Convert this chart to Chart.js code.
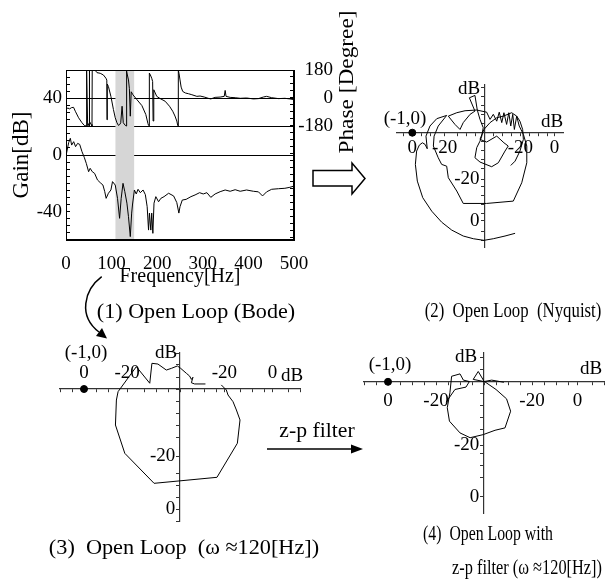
<!DOCTYPE html>
<html>
<head>
<meta charset="utf-8">
<script src="https://cdn.jsdelivr.net/npm/chart.js@4.4.1/dist/chart.umd.min.js"></script>
<style>
  body { margin: 0; background: #fff; }
  #page { position: relative; width: 616px; height: 583px; overflow: hidden;
          font-family: 'Liberation Serif', 'Times New Roman', serif; color: #000; }
  canvas { position: absolute; }
  .t { position: absolute; white-space: pre; line-height: 1; font-size: 19px;
       transform: translate(-50%, -50%); }
  .cap { font-size: 22px; }
  svg { position: absolute; left: 0; top: 0; }
</style>
</head>
<body>
<div id="page">
  <canvas id="bode" width="340" height="292" style="left:0;top:0"></canvas>
  <canvas id="nyq2" width="214" height="210" style="left:373px;top:61px"></canvas>
  <canvas id="nyq3" width="288" height="216" style="left:36px;top:329px"></canvas>
  <canvas id="nyq4" width="288" height="208" style="left:340px;top:329px"></canvas>

  <svg width="616" height="583">
    <path d="M313,170.5 H352 V163 L365,178.5 L352,194 V186 H313 Z" fill="#fff" stroke="#000" stroke-width="1.5"/>
    <path d="M101.7,276.7 C84,290 78,316 99,332" fill="none" stroke="#000" stroke-width="1.5"/>
    <polygon points="107,338.5 96,336 102,328" fill="#000"/>
    <line x1="267" y1="449" x2="354" y2="449" stroke="#000" stroke-width="1.3"/>
    <polygon points="363,449 351,444.5 351,453.5" fill="#000"/>
  </svg>

  <div class="t cap" data-w="143" data-rot="1" style="left:346px;top:82px">Phase [Degree]</div>
  <div class="t cap" data-w="198" style="left:196px;top:311px">(1) Open Loop (Bode)</div>
  <div class="t cap" data-w="177" style="left:513px;top:310px">(2)  Open Loop  (Nyquist)</div>
  <div class="t cap" data-w="270" style="left:184px;top:547px">(3)  Open Loop  (ω ≈120[Hz])</div>
  <div class="t cap" data-w="130" style="left:488px;top:533px">(4)  Open Loop with</div>
  <div class="t cap" data-w="150" style="left:527px;top:567px">z-p filter (ω ≈120[Hz])</div>
  <div class="t cap" data-w="75" style="left:317px;top:430px">z-p filter</div>

  <div class="t" style="left:469px;top:87px">dB</div>
  <div class="t" style="left:405px;top:117px">(-1,0)</div>
  <div class="t" style="left:552px;top:120px">dB</div>

  <div class="t" style="left:166px;top:351px">dB</div>
  <div class="t" style="left:86px;top:351px">(-1,0)</div>
  <div class="t" style="left:292px;top:374px">dB</div>

  <div class="t" style="left:466px;top:355px">dB</div>
  <div class="t" style="left:390px;top:363px">(-1,0)</div>
  <div class="t" style="left:591px;top:367px">dB</div>
</div>

<script>
// ---- Bode plot data: [frequency Hz, value] ----
const gainCurve = [
  [1, 1], [5.8, 8.7], [9.5, 11.8], [12.4, 7], [16.8, 9.4], [21, 5.9], [25.5, 8.2], [30, 7.5],
  [35, 2.4], [40, -1.6], [44.5, -5.9], [49.6, -11.8], [53, -9.4], [57.7, -11.8], [62.8, -13],
  [69, -17.6], [75, -19.5], [81, -21.2], [85, -25.9], [88, -30.6], [93, -27], [98.5, -24.7],
  [102, -18.8], [108, -21.2], [113, -30.6], [117.5, -44.7], [121, -30.6], [125, -20], [129, -25.9],
  [133.6, -34], [137, -43.5], [141, -57.6], [144, -41], [146, -34.6], [150, -24.7], [154, -27.5],
  [158, -24.2], [163, -26.6], [169, -24.7], [174, -28], [178, -36.5], [181, -53], [183, -41],
  [186, -53], [188, -41], [190.5, -55.3], [193, -34], [197, -29.4], [203, -33], [208, -30.6],
  [215, -29.4], [225, -27], [236, -28.9], [243, -33.6], [247.5, -41], [250, -36.5], [255, -31.8],
  [263.5, -31.3], [274, -29.4], [283, -28.2], [293, -26.6], [301, -27.5], [309, -26.6],
  [317.5, -29.9], [327, -27.5], [338, -25.9], [349, -24.7], [360, -25.6], [371, -24.5],
  [382, -25.6], [396, -24.7], [411, -25.6], [422, -26], [431, -28.9], [440, -26], [451, -24.2],
  [466, -23.8], [480, -23.5], [491, -22.8], [500, -21.9]
];
const phaseCurve = [
  [0.7, -74], [3.5, -64], [8, -70], [12, -62], [16.6, -60], [20.4, -85], [27.6, -127], [35, -159],
  [40, -176], [44, -180], [44.5, 180], [46, 170], [47.5, -178], [49, -165], [50.5, -180], [51, 180],
  [52, -150], [55, -170], [57, -180], [57.5, 180], [64, 178], [68, 163], [75, 159], [82, 148],
  [87.6, 127], [89.5, 115], [90, -140], [90.5, 90], [93, 74], [98.5, 10], [104, -74], [108, -127],
  [111.7, -159], [115, -176], [118, -170], [120, -159], [123, -53], [125.6, -159], [130, -176],
  [132, -180], [132.3, 180], [133.6, 169], [137, 116], [139, 60], [141, -117], [143, 40],
  [146.7, 21], [155.5, -10.6], [166.4, -48.7], [175, -106], [179.6, -163], [181, -176],
  [182.5, -180], [182.8, 160], [185, 148], [188, 127], [190, 106], [191, -148], [192.5, 53],
  [199, 10.6], [206.6, -4], [217.5, -21], [227, -53], [234, -85], [239, -116], [243, -148],
  [245, -176], [246, -180], [246.3, 180], [248, 155], [250, 116], [252.5, 70], [256, 42],
  [262, 32], [268.6, 27.5], [276, 21], [287, 10.6], [294, 12.7], [303, 6.4], [312, -2],
  [317.5, -6], [327, 4], [338, 6], [347, 10.6], [349, 48.7], [351, 10.6], [360, 4], [371, 2],
  [382, -2], [396, 0], [411, -6], [422, -4], [433, 6.4], [440, 10.6], [451, 2], [466, -4],
  [480, -2], [491, -6], [500, -10.6]
];
const bandHz = [108, 150];           // shaded band
const gainTickLabels = [-40, 0, 40];
const gainRefLines = [0, 20, 40];
const phaseTickLabels = [180, 0, -180];

// ---- Nyquist (dB polar) curves: [re, im] in dB-radius units ----
const criticalPoint = [-40, 0];
const nyq2Curve = [
  [17.1, -55.9], [11.5, -57.4], [5.0, -58.9], [-0.2, -59.8], [-6.1, -58.9], [-11.7, -57.4],
  [-18.1, -54.1], [-23.7, -49.7], [-29.2, -43.6], [-34.2, -36.1], [-37.2, -26.9], [-38.3, -17.6],
  [-37.6, -10.2], [-36.1, -6.9], [-34.4, -5.6], [-32.9, -6.5], [-31.7, -8.9],
  [-32.4, -1.9], [-30.2, 3.7], [-26.4, 7.8], [-20.9, 9.6],
  [-25.6, 3.7], [-27.9, -1.9], [-28.3, -7.4], [-25.6, -13.9], [-23.7, -17.6], [-20.9, -18.6],
  [-20, -25], [-15.3, -32.4], [-11.7, -39.3], [1.3, -39.3], [16.1, -38], [20.8, -27.8],
  [23.6, -16.7], [23.6, -7.4], [21.7, -0.9], [19.4, 3.7],
  [18, 9.2], [16.7, 1.8], [15.8, 10.2], [14.7, 3.7], [13.6, 11.1], [12.4, 4.6], [10.9, 11.1],
  [9.7, 5.6], [8.3, 11.4], [6.9, 6.4], [5.0, 10.2], [3.2, 7.4],
  [1.3, 11.4], [-4.2, 12.6], [-10.7, 12.2], [-15.3, 11.1], [-20, 9.2], [-16.3, 4.6], [-13.5, 1.8],
  [-11.7, 5.6], [-7.9, 10.2], [-5.2, 12], [-8.3, 19.4], [-5.2, 20.7], [-3.9, 12.6], [-2.4, 7.4],
  [-0.6, 2.8], [-1.4, -1.9], [-2.4, -4.7],
  [-4.2, -8.3], [-5.2, -13.9], [-2.4, -16.3], [4.1, -18.9], [7.8, -16.7], [11.5, -10.2],
  [13.3, -7.4], [10.9, -5.6], [6.9, -1.9], [1.3, -5.2], [-2.4, -3.7], [-0.2, 1.8], [3.2, 5.6],
  [6.9, 8.3], [10.6, 9.2], [15.2, 11.1], [18, 9.2], [19.8, 6.4], [21.3, 1.8], [21.7, -3.7],
  [19.8, -10.2], [17.1, -15.8], [14.7, -18.2]
];
const nyq3Curve = [
  [17.2, 1.7], [19.3, -0.4], [20, -2.5], [22.1, -5.3], [23.5, -8.75], [25, -12.9], [23.9, -22.6],
  [15.4, -36.8], [-10.8, -39.3], [-23, -26.8], [-26.9, -15], [-26.5, -4.6], [-25.8, -1.1],
  [-18.2, 9.3], [-12.6, 2.4], [-11.7, 10.7], [-9.2, 10.4], [-5.7, 7.9], [-3.6, 8.6], [-1.1, 9.6],
  [0.3, 8.6], [2.7, 6.5], [4, 5.4], [4.75, 4], [5.4, 4.9], [4.75, 2.6], [6.1, 2.1], [10.6, 2.1]
];
const nyq4Curve = [
  [-15.8, -8.5], [-12.1, -3.2], [-7.5, -2.2], [-6.1, 0.1], [-8.6, 0.7], [-10, 3.3], [-13.5, 2.3],
  [-14.2, -4.6], [-15.3, -10.8], [-14.4, -16.4], [-10, -21.3], [-5.8, -23.3], [-0.3, -22],
  [4.6, -20.2], [8.75, -19.2], [11.1, -12.25], [9.4, -7.1], [5, -3.2], [0, 0.25], [-2.4, 4.3],
  [-4.5, 1], [0, 0.1], [3.2, 0.7], [8.3, -0.2]
];
// tick labels of the dB-polar axes (where each label sits, what it reads)
const nyq2XTicks = { at: [-40, -22, 20, 39], text: ['0', '-20', '-20', '0'] };
const nyq2YTicks = { at: [-26, -49], text: ['-20 ', '0 '] };
const nyq3XTicks = { at: [-40, -22, 18.5, 38.5], text: ['0', '-20', '-20', '0'] };
const nyq3YTicks = { at: [-28, -50], text: ['-20 ', '0 '] };
const nyq4XTicks = { at: [-40, -20, 20, 39], text: ['0', '-20', '-20', '0'] };
const nyq4YTicks = { at: [-26.5, -48], text: ['-20 ', '0 '] };

Chart.defaults.font.family = "'Liberation Serif', 'Times New Roman', serif";
Chart.defaults.font.size = 19;
Chart.defaults.color = '#000';

const toXY = arr => arr.map(p => ({ x: p[0], y: p[1] }));
const range = (a, b, s) => { const r = []; for (let v = a; s > 0 ? v <= b : v >= b; v += s) r.push(v); return r; };

const frame = {
  id: 'frame',
  afterDraw(chart) {
    const { ctx, chartArea: a } = chart;
    ctx.save();
    ctx.strokeStyle = '#000';
    ctx.lineWidth = 1;
    ctx.strokeRect(a.left + 0.5, a.top + 0.5, a.right - a.left - 1, a.bottom - a.top - 1);
    ctx.restore();
  }
};

new Chart(document.getElementById('bode'), {
  type: 'line',
  data: {
    datasets: [
      { data: bandHz.map(h => ({ x: h, y: 60 })), yAxisID: 'y', fill: 'start',
        backgroundColor: '#d6d6d6', borderWidth: 0, pointRadius: 0, order: 10 },
      { data: toXY(phaseCurve), yAxisID: 'y2', borderColor: '#000', borderWidth: 1,
        pointRadius: 0, tension: 0, fill: false },
      { data: toXY(gainCurve), yAxisID: 'y', borderColor: '#000', borderWidth: 1,
        pointRadius: 0, tension: 0, fill: false }
    ]
  },
  options: {
    responsive: false, animation: false, events: [],
    layout: { padding: { top: 70, left: 0, right: 7, bottom: 0 } },
    plugins: { legend: { display: false }, tooltip: { enabled: false } },
    scales: {
      x: {
        type: 'linear', min: 0, max: 500,
        ticks: { stepSize: 100, padding: 5, maxRotation: 0, autoSkip: false },
        grid: { display: false },
        border: { color: '#000' },
        title: { display: true, text: 'Frequency[Hz]', font: { size: 20 }, padding: { top: 0, bottom: 3 } },
        afterFit: s => { s.height = 52; }
      },
      y: {
        type: 'linear', position: 'left', min: -60, max: 60, z: 1,
        afterBuildTicks: s => { s.ticks = range(-60, 60, 5).map(v => ({ value: v })); },
        ticks: { autoSkip: false, padding: 8, callback: v => gainTickLabels.includes(v) ? String(v) : '' },
        grid: { color: c => gainRefLines.includes(c.tick && c.tick.value) ? '#000' : 'rgba(0,0,0,0)',
                tickColor: '#000', tickLength: -4, lineWidth: 1 },
        border: { color: '#000' },
        title: { display: true, text: 'Gain[dB]', font: { size: 23 }, padding: { top: 8, bottom: 0 } },
        afterFit: s => { s.width = 66; }
      },
      y2: {
        type: 'linear', position: 'right', min: -912.9, max: 180,
        afterBuildTicks: s => { s.ticks = range(180, -900, -45).map(v => ({ value: v })); },
        ticks: { autoSkip: false, crossAlign: 'far', padding: 8,
                 callback: v => phaseTickLabels.includes(v) ? String(v) : '' },
        grid: { drawOnChartArea: false, tickColor: '#000', tickLength: -4 },
        border: { color: '#000' },
        afterFit: s => { s.width = 39; }
      }
    }
  },
  plugins: [frame]
});

function nyquist(id, curve, xr, yr, xTicks, yTicks, xPad) {
  // minor tick marks every 5 units, plus one at each label position
  const tickSet = (min, max, lab) => range(Math.ceil(min / 5) * 5, max, 5)
    .filter(v => lab.at.every(a => Math.abs(a - v) > 3))
    .concat(lab.at).sort((a, b) => a - b).map(v => ({ value: v }));
  const labelOf = lab => v => { const i = lab.at.indexOf(v); return i >= 0 ? lab.text[i] : ''; };
  const axisLook = {
    grid: { drawOnChartArea: false, color: '#333', tickLength: 3, lineWidth: 1 },
    border: { color: '#333', width: 1.2 }
  };
  return new Chart(document.getElementById(id), {
    type: 'scatter',
    data: {
      datasets: [
        { data: toXY(curve), showLine: true, borderColor: '#000', borderWidth: 1,
          pointRadius: 0, tension: 0 },
        { data: toXY([criticalPoint]), pointRadius: 3.5, backgroundColor: '#000', borderColor: '#000' }
      ]
    },
    options: {
      responsive: false, animation: false, events: [],
      layout: { padding: 24 },
      plugins: { legend: { display: false }, tooltip: { enabled: false } },
      scales: {
        x: {
          type: 'linear', min: xr[0], max: xr[1], position: { y: 0 }, ...axisLook,
          afterBuildTicks: s => { s.ticks = tickSet(xr[0], xr[1], xTicks); },
          ticks: { autoSkip: false, maxRotation: 0, padding: xPad, callback: labelOf(xTicks) }
        },
        y: {
          type: 'linear', min: yr[0], max: yr[1], position: { x: 0 }, ...axisLook,
          afterBuildTicks: s => { s.ticks = tickSet(yr[0], yr[1], yTicks); },
          ticks: { autoSkip: false, callback: labelOf(yTicks) }
        }
      }
    }
  });
}

nyquist('nyq2', nyq2Curve, [-48.5, 43.72], [-63.5, 26.5], nyq2XTicks, nyq2YTicks, 1);
nyquist('nyq3', nyq3Curve, [-50, 50], [-55, 15], nyq3XTicks, nyq3YTicks, -30);
nyquist('nyq4', nyq4Curve, [-50, 50], [-54.67, 12], nyq4XTicks, nyq4YTicks, 5);

// squeeze captions to the widths seen in the figure
document.querySelectorAll('[data-w]').forEach(el => {
  const k = el.dataset.w / el.offsetWidth;
  el.style.transform = 'translate(-50%, -50%)' + (el.dataset.rot ? ' rotate(-90deg)' : '') + ' scaleX(' + k + ')';
});
</script>
</body>
</html>
